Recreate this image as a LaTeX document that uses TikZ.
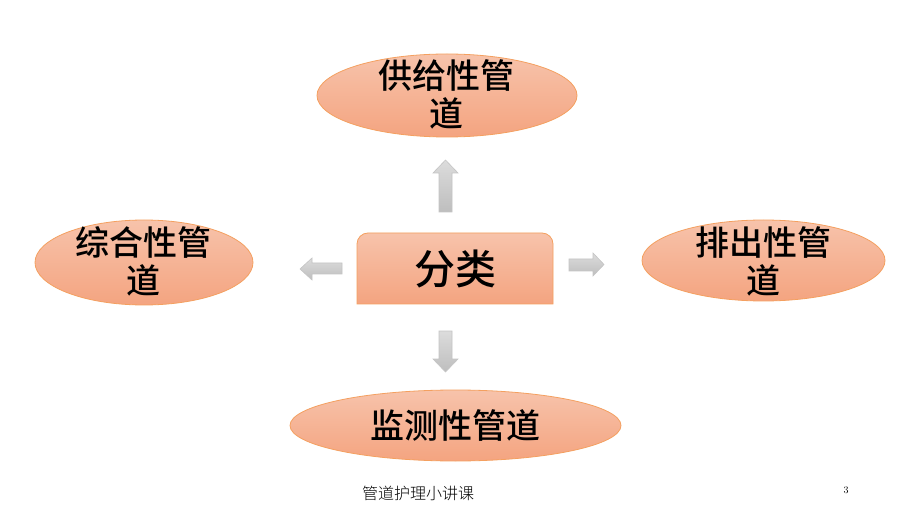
\documentclass[tikz,border=0pt]{standalone}
\usepackage{fontspec}
\newfontfamily\cjk{Noto Sans CJK SC Medium}
\newfontfamily\cjkfoot{Noto Sans CJK SC Light}
\usetikzlibrary{shapes.geometric}
\definecolor{salmonTop}{HTML}{F7C3AB}
\definecolor{salmonBot}{HTML}{F4A480}
\definecolor{salmonLine}{HTML}{F4A060}
\definecolor{grayTop}{HTML}{DCDCDC}
\definecolor{grayBot}{HTML}{BEBEBE}
\definecolor{grayLine}{HTML}{C4C4C4}
\tikzset{
  blob/.style={top color=salmonTop,bottom color=salmonBot,draw=salmonLine,line width=0.8pt},
  blockarrow/.style={top color=grayTop,bottom color=grayBot,draw=grayLine,line width=0.6pt},
  bigtext/.style={font=\cjk\fontsize{34}{38}\selectfont,align=center,inner sep=0pt,text=black},
  foottext/.style={font=\cjkfoot\fontsize{16}{18}\selectfont,inner sep=0pt,text=black},
}
\begin{document}
\begin{tikzpicture}[x=1pt,y=-1pt]
\useasboundingbox (0,0) rectangle (920,518);
\fill[white] (0,0) rectangle (920,518);
% ellipses
\path[blob] (447,95.5) ellipse [x radius=130,y radius=41.5];
\path[blob] (144,262.5) ellipse [x radius=109,y radius=42.5];
\path[blob] (763.5,260.5) ellipse [x radius=121.5,y radius=40.5];
\path[blob] (455.5,425.5) ellipse [x radius=165.5,y radius=35.5];
% center box with rounded top corners
\path[blob] (357,304) -- (357,244) arc[start angle=180,end angle=270,radius=11]
  -- (542,233) arc[start angle=270,end angle=360,radius=11] -- (553,304) -- cycle;
% texts
\node[bigtext] (supply) at (446,94) {供给性管\\道};
\node[bigtext] (comp) at (143,261) {综合性管\\道};
\node[bigtext] (drain) at (763,261) {排出性管\\道};
\node[bigtext] (monitor) at (455,425) {监测性管道};
\node[bigtext,font=\cjk\fontsize{41}{44}\selectfont] (cls) at (455,269) {分类};
% block arrows
\path[blockarrow] (439,212) -- (439,173) -- (433,173) -- (445.5,160) -- (458,173) -- (452,173) -- (452,212) -- cycle;
\path[blockarrow] (439,331) -- (439,359) -- (433,359) -- (445.5,372) -- (458,359) -- (452,359) -- (452,331) -- cycle;
\path[blockarrow] (342,263) -- (312,263) -- (312,258) -- (300,269) -- (312,280) -- (312,274) -- (342,274) -- cycle;
\path[blockarrow] (569,259) -- (593,259) -- (593,253) -- (604,264.5) -- (593,276) -- (593,271) -- (569,271) -- cycle;
% footer
\node[foottext] (foot) at (418,493) {管道护理小讲课};
\node[font=\fontsize{10}{12}\selectfont,inner sep=0pt] (page) at (846,490) {3};
\end{tikzpicture}
\end{document}
